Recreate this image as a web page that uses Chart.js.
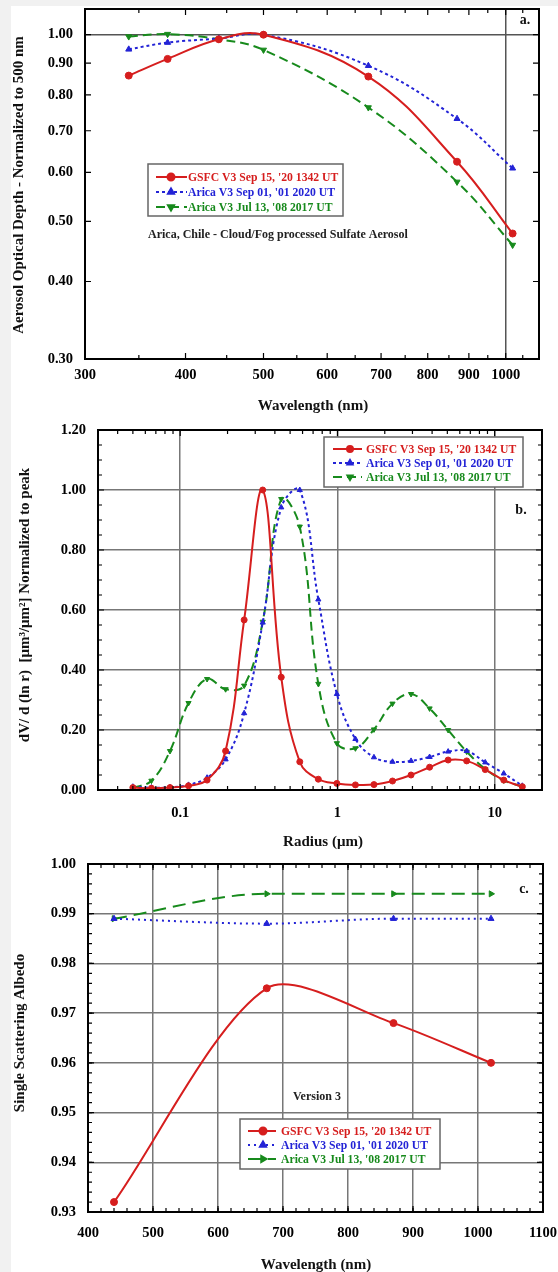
<!DOCTYPE html>
<html>
<head>
<meta charset="utf-8">
<script src="https://cdn.jsdelivr.net/npm/chart.js@4.4.0/dist/chart.umd.min.js"></script>
<style>
  body { margin: 0; background: #f1f1f1; width: 558px; height: 1272px; overflow: hidden; position: relative; }
  #page { position: absolute; left: 11px; top: 6px; width: 547px; height: 1266px; background: #fff; }
  canvas { position: absolute; left: 0; }
</style>
</head>
<body>
<div id="page"></div>
<canvas id="chartA" width="558" height="420" style="top:0"></canvas>
<canvas id="chartB" width="558" height="430" style="top:420px"></canvas>
<canvas id="chartC" width="558" height="422" style="top:850px"></canvas>
<script>
/* ---------------- data ---------------- */
const legendLabels = ["GSFC V3 Sep 15, '20 1342 UT", "Arica V3 Sep 01, '01 2020 UT", "Arica V3 Jul 13, '08 2017 UT"];

// a. AOD normalized to 500 nm
const wlAod = [340, 380, 440, 500, 675, 870, 1020];
const aodGsfc = [0.859, 0.914, 0.983, 1.000, 0.856, 0.624, 0.478];
const aodArica01 = [0.947, 0.971, 0.986, 1.000, 0.891, 0.732, 0.609];
const aodArica08 = [0.993, 1.002, 0.983, 0.945, 0.763, 0.579, 0.458];
const aodTicksX = [300, 400, 500, 600, 700, 800, 900, 1000];
const aodTicksY = [0.30, 0.40, 0.50, 0.60, 0.70, 0.80, 0.90, 1.00];

// b. size distribution normalized to peak
const radius = [0.05, 0.0656, 0.0861, 0.1129, 0.1482, 0.1944, 0.2551, 0.3347, 0.4391, 0.5761, 0.7558,
                0.9917, 1.3012, 1.7072, 2.2398, 2.9387, 3.8558, 5.0589, 6.6375, 8.7086, 11.4262, 14.9916];
const dvGsfc = [0.008, 0.006, 0.008, 0.014, 0.033, 0.130, 0.567, 1.000, 0.376, 0.094, 0.036,
                0.022, 0.017, 0.018, 0.030, 0.050, 0.076, 0.100, 0.097, 0.068, 0.033, 0.011];
const dvArica01 = [0.011, 0.008, 0.009, 0.017, 0.041, 0.102, 0.256, 0.558, 0.942, 1.000, 0.635,
                   0.320, 0.170, 0.109, 0.094, 0.097, 0.110, 0.128, 0.130, 0.092, 0.055, 0.014];
const dvArica08 = [0.007, 0.031, 0.130, 0.290, 0.370, 0.336, 0.348, 0.561, 0.970, 0.878, 0.354,
                   0.156, 0.139, 0.202, 0.288, 0.320, 0.272, 0.200, 0.128, 0.070, 0.032, 0.011];
const radiusTicks = [0.1, 1, 10];
const dvTicks = [0, 0.2, 0.4, 0.6, 0.8, 1.0, 1.2];

// c. single scattering albedo
const wlSsa = [440, 675, 870, 1020];
const ssaGsfc = [0.932, 0.975, 0.968, 0.960];
const ssaArica01 = [0.989, 0.988, 0.989, 0.989];
const ssaArica08 = [0.989, 0.994, 0.994, 0.994];
const ssaTicksX = [400, 500, 600, 700, 800, 900, 1000, 1100];
const ssaTicksY = [0.93, 0.94, 0.95, 0.96, 0.97, 0.98, 0.99, 1.00];

/* ---------------- styles ---------------- */
const RED = '#d61e1e', BLUE = '#2323d6', GREEN = '#178a1c';
const SERIF = '"Liberation Serif", "Times New Roman", serif';
const W = 558;

function series(label, xs, ys, color, dash, style, rot, r, curve) {
  return {
    label, data: xs.map((x, i) => ({ x, y: ys[i] })),
    borderColor: color, backgroundColor: color, borderWidth: 2, borderDash: dash,
    pointStyle: style, pointRotation: rot, pointRadius: r, pointBorderWidth: 1,
    tension: curve === undefined ? 0.4 : curve,
    cubicInterpolationMode: curve === 'mono' ? 'monotone' : 'default', fill: false
  };
}

function range(a, b, step) {
  const out = [];
  for (let v = a; v <= b + step / 1000; v += step) out.push(+v.toFixed(6));
  return out;
}

/* draws inward ticks, frame, titles, legend and notes */
const decor = {
  id: 'decor',
  afterDraw(chart, args, o) {
    const c = chart.ctx, a = chart.chartArea, sx = chart.scales.x, sy = chart.scales.y;
    c.save();
    c.strokeStyle = '#000';
    c.lineWidth = 1.2;
    c.setLineDash([]);
    const tickX = (vals, len) => vals.forEach(v => {
      const p = sx.getPixelForValue(v);
      if (p <= a.left + 1 || p >= a.right - 1) return;
      c.beginPath();
      c.moveTo(p, a.bottom); c.lineTo(p, a.bottom - len);
      c.moveTo(p, a.top); c.lineTo(p, a.top + len);
      c.stroke();
    });
    const tickY = (vals, len) => vals.forEach(v => {
      const p = sy.getPixelForValue(v);
      if (p <= a.top + 1 || p >= a.bottom - 1) return;
      c.beginPath();
      c.moveTo(a.left, p); c.lineTo(a.left + len, p);
      c.moveTo(a.right, p); c.lineTo(a.right - len, p);
      c.stroke();
    });
    tickX(o.xMajor, 6); tickX(o.xMinor, 4);
    tickY(o.yMajor, 6); tickY(o.yMinor, 4);

    // frame
    c.lineWidth = 2;
    c.strokeRect(a.left, a.top, a.right - a.left, a.bottom - a.top);

    // axis titles
    c.fillStyle = '#111';
    c.font = 'bold 15px ' + SERIF;
    c.textAlign = 'center';
    c.textBaseline = 'middle';
    c.fillText(o.xTitle[0], o.xTitle[1], o.xTitle[2]);
    c.save();
    c.translate(o.yTitle[1], o.yTitle[2]);
    c.rotate(-Math.PI / 2);
    c.fillText(o.yTitle[0], 0, 0);
    c.restore();

    // panel letter
    c.font = 'bold 14px ' + SERIF;
    c.fillText(o.panel[0], o.panel[1], o.panel[2]);

    // notes
    c.font = 'bold 12px ' + SERIF;
    c.fillStyle = '#222';
    (o.notes || []).forEach(n => {
      c.textAlign = n[3];
      c.fillText(n[0], n[1], n[2]);
    });

    // legend
    const L = o.legend;
    c.fillStyle = '#fff';
    c.fillRect(L.box[0], L.box[1], L.box[2] - L.box[0], L.box[3] - L.box[1]);
    c.strokeStyle = '#666';
    c.lineWidth = 1.5;
    c.strokeRect(L.box[0], L.box[1], L.box[2] - L.box[0], L.box[3] - L.box[1]);
    chart.data.datasets.forEach((ds, i) => {
      const y = L.rows[i];
      c.strokeStyle = ds.borderColor;
      c.lineWidth = 2;
      c.setLineDash(ds.borderDash || []);
      c.beginPath();
      c.moveTo(L.line[0], y); c.lineTo(L.line[1], y);
      c.stroke();
      c.setLineDash([]);
      c.fillStyle = ds.borderColor;
      Chart.helpers.drawPoint(c, {
        pointStyle: ds.pointStyle, rotation: ds.pointRotation || 0,
        radius: ds.pointRadius, borderWidth: 1
      }, L.marker, y);
      c.font = 'bold 11.7px ' + SERIF;
      c.textAlign = 'left';
      c.fillText(ds.label, L.text, y + 0.5);
    });
    c.restore();
  }
};

function makeChart(id, height, cfg) {
  const area = cfg.area;
  const tickFont = { family: SERIF, size: 14.5, weight: 'bold' };
  return new Chart(document.getElementById(id), {
    type: 'line',
    data: { datasets: cfg.datasets },
    options: {
      responsive: false,
      animation: false,
      devicePixelRatio: 1,
      layout: { padding: { left: 0, top: area.top, right: W - area.right, bottom: 0 } },
      plugins: { legend: { display: false }, tooltip: { enabled: false }, decor: cfg.decor },
      scales: {
        x: {
          type: cfg.xType, min: cfg.xMin, max: cfg.xMax,
          afterFit: s => { s.height = height - area.bottom; s.paddingLeft = 0; s.paddingRight = 0; },
          afterBuildTicks: s => { s.ticks = cfg.xTicks.map(v => ({ value: v })); },
          ticks: { autoSkip: false, maxRotation: 0, padding: cfg.xPad, color: '#000', font: tickFont,
                   callback: cfg.xFmt },
          grid: { drawTicks: false, color: cfg.xGrid, lineWidth: 1.5 },
          border: { display: false }
        },
        y: {
          type: cfg.yType, min: cfg.yMin, max: cfg.yMax,
          afterFit: s => { s.width = area.left; s.paddingTop = 0; s.paddingBottom = 0; },
          afterBuildTicks: s => { s.ticks = cfg.yTicks.map(v => ({ value: v })); },
          ticks: { autoSkip: false, padding: cfg.yPad, color: '#000', font: tickFont,
                   callback: cfg.yFmt },
          grid: { drawTicks: false, color: cfg.yGrid, lineWidth: 1.5 },
          border: { display: false }
        }
      }
    },
    plugins: [decor]
  });
}

const GRID = '#777';

/* ---------------- a. ---------------- */
makeChart('chartA', 420, {
  area: { left: 85, top: 9, right: 539, bottom: 359 },
  datasets: [
    series(legendLabels[0], wlAod, aodGsfc, RED, [], 'circle', 0, 3.5),
    series(legendLabels[1], wlAod, aodArica01, BLUE, [3, 3], 'triangle', 0, 3.5),
    series(legendLabels[2], wlAod, aodArica08, GREEN, [9, 5], 'triangle', 180, 3.5)
  ],
  xType: 'logarithmic', xMin: 300, xMax: 1100, xTicks: aodTicksX, xPad: 8,
  xFmt: v => String(v),
  xGrid: ctx => ctx.tick && ctx.tick.value === 1000 ? '#555' : 'rgba(0,0,0,0)',
  yType: 'logarithmic', yMin: 0.3, yMax: 1.1, yTicks: aodTicksY, yPad: 12,
  yFmt: v => v.toFixed(2),
  yGrid: ctx => ctx.tick && Math.abs(ctx.tick.value - 1) < 1e-9 ? '#555' : 'rgba(0,0,0,0)',
  decor: {
    xMajor: aodTicksX, xMinor: range(350, 1050, 100), yMajor: aodTicksY, yMinor: [],
    xTitle: ['Wavelength (nm)', 313, 406],
    yTitle: ['Aerosol Optical Depth - Normalized to 500 nm', 19, 185],
    panel: ['a.', 525, 20],
    notes: [['Arica, Chile - Cloud/Fog processed Sulfate Aerosol', 148, 235, 'left']],
    legend: { box: [148, 164, 343, 216], rows: [177, 192, 207], line: [156, 187], marker: 171, text: 188 }
  }
});

/* ---------------- b. ---------------- */
const minorLog = [];
[0.01, 0.1, 1, 10].forEach(d => { for (let k = 2; k <= 9; k++) minorLog.push(+(d * k).toFixed(4)); });
makeChart('chartB', 430, {
  area: { left: 98, top: 10, right: 542, bottom: 370 },
  datasets: [
    series(legendLabels[0], radius, dvGsfc, RED, [], 'circle', 0, 3),
    series(legendLabels[1], radius, dvArica01, BLUE, [3, 3], 'triangle', 0, 3),
    series(legendLabels[2], radius, dvArica08, GREEN, [9, 5], 'triangle', 180, 3)
  ],
  xType: 'logarithmic', xMin: 0.03, xMax: 20, xTicks: radiusTicks, xPad: 15,
  xFmt: v => String(v),
  xGrid: GRID,
  yType: 'linear', yMin: 0, yMax: 1.2, yTicks: dvTicks, yPad: 12,
  yFmt: v => v.toFixed(2),
  yGrid: GRID,
  decor: {
    xMajor: radiusTicks, xMinor: minorLog, yMajor: dvTicks, yMinor: range(0.05, 1.15, 0.1).concat(range(0.1, 1.1, 0.2)),
    xTitle: ['Radius (\u03bcm)', 323, 422],
    yTitle: ['dV/ d (ln r)  [\u03bcm\u00b3/\u03bcm\u00b2] Normalized to peak', 25, 185],
    panel: ['b.', 521, 90],
    notes: [],
    legend: { box: [324, 17, 523, 67], rows: [29, 43, 57], line: [333, 362], marker: 350, text: 366 }
  }
});

/* ---------------- c. ---------------- */
makeChart('chartC', 422, {
  area: { left: 88, top: 14, right: 543, bottom: 362 },
  datasets: [
    series(legendLabels[0], wlSsa, ssaGsfc, RED, [], 'circle', 0, 3.5, 0.28),
    series(legendLabels[1], wlSsa, ssaArica01, BLUE, [2, 4], 'triangle', 0, 3.5, 'mono'),
    series(legendLabels[2], wlSsa, ssaArica08, GREEN, [13, 7], 'triangle', 90, 3.5, 'mono')
  ],
  xType: 'linear', xMin: 400, xMax: 1100, xTicks: ssaTicksX, xPad: 13,
  xFmt: v => String(v),
  xGrid: GRID,
  yType: 'linear', yMin: 0.93, yMax: 1.0, yTicks: ssaTicksY, yPad: 12,
  yFmt: v => v.toFixed(2),
  yGrid: GRID,
  decor: {
    xMajor: ssaTicksX, xMinor: range(420, 1080, 20), yMajor: ssaTicksY, yMinor: range(0.932, 0.998, 0.002),
    xTitle: ['Wavelength (nm)', 316, 415],
    yTitle: ['Single Scattering Albedo', 20, 183],
    panel: ['c.', 524, 39],
    notes: [['Version 3', 317, 247, 'center']],
    legend: { box: [240, 269, 440, 319], rows: [281, 295, 309], line: [248, 276], marker: 263, text: 281 }
  }
});
</script>
</body>
</html>
